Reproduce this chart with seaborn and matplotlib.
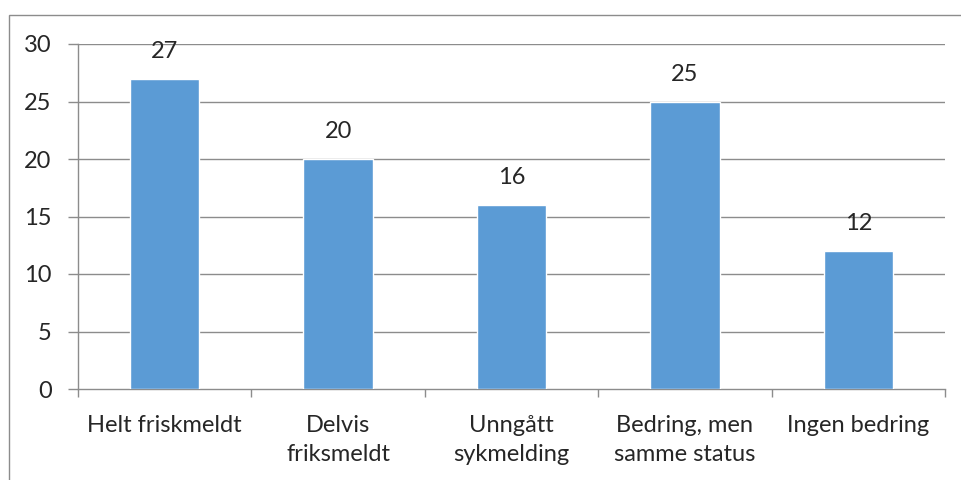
import matplotlib
matplotlib.use("Agg")
import matplotlib.pyplot as plt
import pandas as pd
import seaborn as sns
from matplotlib.patches import Rectangle

categories = [
    "Helt friskmeldt",
    "Delvis\nfriksmeldt",
    "Unngått\nsykmelding",
    "Bedring, men\nsamme status",
    "Ingen bedring",
]
values = [27, 20, 16, 25, 12]
y_ticks = [0, 5, 10, 15, 20, 25, 30]

BAR_COLOR = "#5B9BD5"
GRID_COLOR = "#8C8C8C"
FONT_SIZE = 17

sns.set_style("white")
plt.rcParams["font.family"] = ["Lato", "DejaVu Sans"]

df = pd.DataFrame({"category": categories, "value": values})

fig = plt.figure(figsize=(9.61, 4.8), dpi=100)
ax = fig.add_axes([78 / 961, 1 - 389 / 480, (945 - 78) / 961, (389 - 44) / 480])

sns.barplot(data=df, x="category", y="value", color=BAR_COLOR, width=0.4,
            saturation=1, ax=ax, zorder=3)

ax.set_ylim(0, 30)
ax.set_xlim(-0.5, len(categories) - 0.5)
ax.set_yticks(y_ticks)
ax.set_xlabel("")
ax.set_ylabel("")

for y in y_ticks[1:]:
    ax.axhline(y, color=GRID_COLOR, lw=1, zorder=1)

for side in ["top", "right"]:
    ax.spines[side].set_visible(False)
for side in ["left", "bottom"]:
    ax.spines[side].set_color(GRID_COLOR)
    ax.spines[side].set_linewidth(1)

# category boundary ticks, Excel style
ax.set_xticks(range(len(categories)))
ax.set_xticklabels(categories, linespacing=1.45)
ax.set_xticks([i - 0.5 for i in range(len(categories) + 1)], minor=True)
ax.tick_params(axis="x", which="minor", bottom=True, length=6, color=GRID_COLOR,
               width=1, direction="out")
ax.tick_params(axis="x", which="major", bottom=True, length=0, labelsize=FONT_SIZE, pad=19)
ax.tick_params(axis="y", left=True, length=7, color=GRID_COLOR, width=1,
               labelsize=FONT_SIZE, pad=12)

for i, v in enumerate(values):
    ax.annotate(str(v), (i, v), xytext=(0, 12), textcoords="offset points",
                ha="center", va="bottom", fontsize=FONT_SIZE)

# chart border
fig.patches.append(Rectangle((9 / 961, -0.01), 1.0, 1 - 15 / 480 + 0.01,
                             transform=fig.transFigure, fill=False,
                             edgecolor=GRID_COLOR, lw=1))

fig.savefig("out.png", dpi=100)
